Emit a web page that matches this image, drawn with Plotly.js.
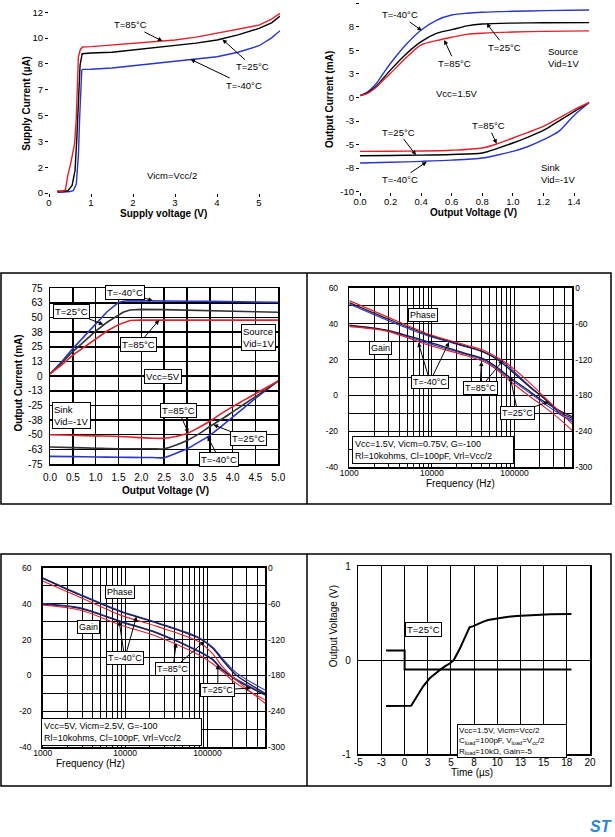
<!DOCTYPE html>
<html><head><meta charset="utf-8">
<script src="https://cdn.plot.ly/plotly-3.0.1.min.js"></script>
<style>html,body{margin:0;padding:0;background:#fff}#chart{width:615px;height:837px}</style>
</head><body><div id="chart"></div>
<script>
// ===== Panel 1: supply current vs supply voltage =====
const supplyV85 = [0.2,0.3,0.39,0.45,0.52,0.61,0.65,0.7,0.75,0.8,1.0,1.5,2.0,2.5,3.0,3.5,4.0,4.5,5.0,5.3,5.5];
const supplyI85 = [0.15,0.1,0.2,1.2,2.0,3.3,5.0,9.05,9.55,9.7,9.72,9.83,9.98,10.05,10.16,10.35,10.6,10.85,11.15,11.55,11.93];
const supplyV25 = [0.2,0.3,0.45,0.55,0.62,0.66,0.7,0.74,0.79,1.0,1.5,2.0,2.5,3.0,3.5,4.0,4.5,5.0,5.3,5.5];
const supplyI25 = [0.1,0.1,0.15,0.5,1.5,3.5,6.5,8.5,9.25,9.3,9.35,9.5,9.65,9.8,9.95,10.16,10.5,10.93,11.3,11.75];
const supplyVm40 = [0.2,0.3,0.5,0.58,0.65,0.7,0.73,0.76,0.78,0.8,1.0,1.5,2.0,2.5,3.0,3.5,4.0,4.5,5.0,5.3,5.5];
const supplyIm40 = [0.05,0.05,0.1,0.15,0.6,2.5,5.0,7.5,8.15,8.21,8.22,8.3,8.43,8.6,8.75,8.88,9.05,9.35,9.78,10.3,10.78];
const p1XTicks = [0,1,2,3,4,5];
const p1YTickVals = [0,1.714,3.429,5.143,6.857,8.571,10.286,12];
const p1YTickText = ["0","2","3","5","7","8","10","12"];

// ===== Panel 2: output current vs output voltage, Vcc=1.5V =====
const srcV15 = [0,0.05,0.1,0.15,0.2,0.3,0.4,0.5,0.6,0.7,0.8,1.0,1.2,1.5];
const srcIm40 = [0.2,0.6,1.35,2.5,3.64,5.6,7.17,8.2,8.76,8.95,9.05,9.15,9.22,9.29];
const srcI25 = [0.2,0.5,1.1,2.0,2.93,4.6,5.93,6.8,7.2,7.6,7.8,7.9,7.93,7.95];
const srcI85 = [0.2,0.45,1.0,1.8,2.58,4.2,5.58,6.04,6.4,6.7,6.82,6.95,7.02,7.07];
const sinkV15 = [0,0.2,0.4,0.6,0.8,0.9,1.0,1.1,1.2,1.3,1.4,1.5];
const sinkI85 = [-5.72,-5.7,-5.68,-5.6,-5.36,-4.9,-4.3,-3.7,-3.07,-2.2,-1.3,-0.53];
const sinkI25 = [-6.18,-6.15,-6.12,-6.05,-5.89,-5.4,-4.83,-4.2,-3.5,-2.5,-1.5,-0.53];
const sinkIm40 = [-6.95,-6.88,-6.78,-6.65,-6.42,-6.1,-5.72,-5.2,-4.48,-3.6,-1.9,-0.53];
const p2XTickVals = [0,0.2,0.4,0.6,0.8,1.0,1.2,1.4];
const p2XTickText = ["0.0","0.2","0.4","0.6","0.8","1.0","1.2","1.4"];
const p2YTickVals = [-10,-7.5,-5,-2.5,0,2.5,5,7.5,10];
const p2YTickText = ["-10","-8","-5","-3","0","3","5","8","10"];

// ===== Panel 3: output current vs output voltage, Vcc=5V =====
const srcV5 = [0,0.25,0.5,0.75,1.0,1.25,1.5,1.6,1.75,2.0,2.5,3.0,3.5,4.0,4.5,5.0];
const src5m40 = [2,12,23.5,34,44.5,55,63,64,64.5,64.5,64.3,64,63.8,63.5,63.3,63];
const src525 = [2,11,21,30,38.5,46,52.5,54.5,56.5,57,56.8,56.5,56,55.5,55,54.5];
const src585 = [2,9.5,18,25,32,38.5,44,45.5,47.5,48,48,48,48,47.8,47.8,47.8];
const sinkV5 = [0,0.5,1.0,1.5,2.0,2.25,2.5,2.75,3.0,3.25,3.5,3.75,4.0,4.25,4.5,4.75,5.0];
const sink585 = [-50,-50.5,-51,-51.5,-52.5,-53,-53,-51.5,-49,-44,-38.5,-32,-26,-20.5,-15,-9.5,-4];
const sink525 = [-60.5,-61,-61.5,-62,-62,-62,-62,-59,-55,-49.5,-43,-37,-30.5,-24,-17.5,-11,-4];
const sink5m40 = [-68.5,-68.7,-69,-69.2,-69.5,-69.5,-69.6,-66,-62,-56.5,-50.5,-43,-35,-27,-19,-11.5,-4];
const p3YTickVals = [-75,-62.5,-50,-37.5,-25,-12.5,0,12.5,25,37.5,50,62.5,75];
const p3YTickText = ["-75","-63","-50","-38","-25","-13","0","13","25","38","50","63","75"];

// ===== Panel 4: gain & phase vs frequency, Vcc=1.5V =====
const freq4 = [1000,2830,9040,25600,41500,64300,80300,155000,227000,369000,500000];
const gain4m40 = [38.8,36.2,29.0,22.9,19.8,14.2,10.5,1.2,-4.4,-11,-14.6];
const gain425 = [39.2,36.4,29.9,23.4,20.5,15,11.4,2.1,-3.4,-9,-11.8];
const gain485 = [38.3,35.8,28.1,22.2,19,13.5,9.5,-0.7,-6.2,-14,-19.6];
const phase4m40 = [-27.3,-54,-80.7,-98.4,-107.4,-120,-129,-165.3,-184.5,-212.7,-221.1];
const phase425 = [-24.9,-51.3,-78.9,-97.5,-106.8,-121.5,-132,-166.5,-184.8,-209.7,-218.1];
const phase485 = [-21.6,-48.3,-77.4,-95.7,-104.1,-117.9,-126.3,-159.8,-182,-210,-228];

// ===== Panel 5: gain & phase vs frequency, Vcc=5V =====
const freq5 = [1000,2830,8790,24900,78900,116000,152000,223000,500000];
const gain5m40 = [40,37.8,30.3,23.8,13.6,9.0,3.5,-2,-10.3];
const gain525 = [39.6,37.4,29.9,23.4,13.2,8.6,3.0,-2.5,-10.9];
const gain585 = [39.2,36.4,28.1,21.6,11.4,6.5,2.1,-4.4,-13.6];
const phase5m40 = [-16.8,-44.4,-72.3,-91.8,-116.4,-132.6,-151.5,-175.2,-204.3];
const phase525 = [-17.7,-45.6,-73.5,-93,-117.9,-134.7,-154.2,-179.2,-209.7];
const phase585 = [-22.2,-49.5,-79.2,-98.4,-123.6,-144,-165.3,-187.5,-226.5];

const freqGrid = [1000,2000,3000,4000,5000,6000,7000,8000,9000,10000,20000,30000,40000,50000,60000,70000,80000,90000,100000,200000,300000,400000,500000];
const freqLabels = {1000:"1000",10000:"10000",100000:"100000"};
const gainTickVals = [-40,-30,-20,-10,0,10,20,30,40,50,60];
const gainTickText = ["-40","","-20","","0","","20","","40","","60"];
const phaseTickVals = [-300,-240,-180,-120,-60,0];
const phaseTickText = ["-300","-240","-180","-120","-60","0"];

// ===== Panel 6: step response =====
const stepInT = [-2,0,0,18];
const stepInV = [0.1,0.1,-0.1,-0.1];
const stepOutT = [-2,0,0.7,1.3,2.0,2.7,3.2,3.8,4.3,4.9,5.3,5.6,6.0,6.3,6.7,7.0,7.4,8.0,8.5,9.0,9.9,11,12.1,13.9,15.7,18];
const stepOutV = [-0.49,-0.49,-0.486,-0.39,-0.28,-0.195,-0.15,-0.106,-0.07,-0.035,0.0,0.053,0.13,0.195,0.28,0.348,0.36,0.39,0.408,0.425,0.443,0.458,0.468,0.479,0.486,0.489];
const timeTickVals = [-5,-2.5,0,2.5,5,7.5,10,12.5,15,17.5,20];
const timeTickText = ["-5","-3","0","3","5","8","10","13","15","18","20"];

// ================= rendering =================
const W = 615, H = 837;
const FONT = "Liberation Sans, Arial, sans-serif";
const RED = "#e3202a", BLUE = "#2a36c8", BLK = "#000000";
const px = v => v / W, py = v => 1 - v / H;

function ln(x, y, xa, ya, color, width, shape) {
  return {x, y, xaxis: xa, yaxis: ya, type: "scatter", mode: "lines",
          line: {color, width, shape: shape || "linear", smoothing: 0.8}, hoverinfo: "skip"};
}
const traces = [
  ln(supplyVm40, supplyIm40, "x", "y", BLUE, 1.4),
  ln(supplyV25, supplyI25, "x", "y", BLK, 1.4),
  ln(supplyV85, supplyI85, "x", "y", RED, 1.4),

  ln(srcV15, srcIm40, "x2", "y2", BLUE, 1.4, "spline"),
  ln(srcV15, srcI25, "x2", "y2", BLK, 1.4, "spline"),
  ln(srcV15, srcI85, "x2", "y2", RED, 1.4, "spline"),
  ln(sinkV15, sinkIm40, "x2", "y2", BLUE, 1.4, "spline"),
  ln(sinkV15, sinkI25, "x2", "y2", BLK, 1.4, "spline"),
  ln(sinkV15, sinkI85, "x2", "y2", RED, 1.4, "spline"),

  ln(srcV5, src5m40, "x3", "y3", BLUE, 1.6),
  ln(srcV5, src525, "x3", "y3", "#333", 1.6),
  ln(srcV5, src585, "x3", "y3", RED, 1.6),
  ln(sinkV5, sink5m40, "x3", "y3", BLUE, 1.6, "spline"),
  ln(sinkV5, sink525, "x3", "y3", "#333", 1.6, "spline"),
  ln(sinkV5, sink585, "x3", "y3", RED, 1.6, "spline"),

  ln(freq4, gain4m40, "x4", "y4", BLUE, 1.1, "spline"),
  ln(freq4, gain425, "x4", "y4", "#1a1a3a", 1.3, "spline"),
  ln(freq4, gain485, "x4", "y4", RED, 1.1, "spline"),
  ln(freq4, phase4m40, "x4", "y7", BLUE, 1.1, "spline"),
  ln(freq4, phase425, "x4", "y7", "#1a1a3a", 1.3, "spline"),
  ln(freq4, phase485, "x4", "y7", RED, 1.1, "spline"),

  ln(freq5, gain5m40, "x5", "y5", BLUE, 1.1, "spline"),
  ln(freq5, gain525, "x5", "y5", "#1a1a3a", 1.3, "spline"),
  ln(freq5, gain585, "x5", "y5", RED, 1.1, "spline"),
  ln(freq5, phase5m40, "x5", "y8", BLUE, 1.1, "spline"),
  ln(freq5, phase525, "x5", "y8", "#1a1a3a", 1.3, "spline"),
  ln(freq5, phase585, "x5", "y8", RED, 1.1, "spline"),

  ln(stepInT, stepInV, "x6", "y6", BLK, 2),
  ln(stepOutT, stepOutV, "x6", "y6", BLK, 2)
];

const tf = s => ({family: FONT, size: s, color: "#000"});
const plainX = (dom, anchor, extra) => Object.assign({domain: dom, anchor, showgrid: false, zeroline: false,
  showline: false, ticks: "outside", ticklen: 3, tickcolor: "#000", tickfont: tf(9.5), fixedrange: true}, extra);
const boxAx = (dom, anchor, gw, extra) => Object.assign({domain: dom, anchor, showgrid: true, gridcolor: "#000",
  gridwidth: gw, zeroline: false, showline: true, mirror: true, linecolor: "#000", linewidth: 1.5,
  ticks: "", tickfont: tf(10), fixedrange: true}, extra);

const freqText = freqGrid.map(f => freqLabels[f] || "");
const LOGMAX = Math.log10(500000);

const layout = {
  width: W, height: H, margin: {l: 0, r: 0, t: 0, b: 0},
  paper_bgcolor: "#fff", plot_bgcolor: "rgba(0,0,0,0)", showlegend: false,
  font: {family: FONT, size: 10, color: "#000"},
  xaxis: plainX([px(49), px(280)], "y", {range: [0, 5.5], tickvals: p1XTicks, ticklabelstandoff: -2}),
  yaxis: plainX([py(193), py(12.3)], "x", {range: [0, 12], tickvals: p1YTickVals, ticktext: p1YTickText}),
  xaxis2: plainX([px(360), px(589.3)], "y2", {range: [0, 1.5], tickvals: p2XTickVals, ticktext: p2XTickText, ticklabelstandoff: -2}),
  yaxis2: plainX([py(191.7), py(3.3)], "x2", {range: [-10, 10], tickvals: p2YTickVals, ticktext: p2YTickText}),
  xaxis3: boxAx([px(50), px(278.3)], "y3", 1.5, {range: [0, 5], dtick: 0.5, tick0: 0, tickformat: ".1f", ticklabelstandoff: 3}),
  yaxis3: boxAx([py(464), py(288.3)], "x3", 1.5, {range: [-75, 75], tickvals: p3YTickVals, ticktext: p3YTickText, ticklabelstandoff: 4}),
  xaxis4: boxAx([px(349.3), px(572.3)], "y4", 1, {type: "log", range: [3, LOGMAX], tickvals: freqGrid, ticktext: freqText, tickfont: tf(8.5), ticklabelstandoff: -3}),
  yaxis4: boxAx([py(467.3), py(287.7)], "x4", 1, {range: [-40, 60], tickvals: gainTickVals, ticktext: gainTickText, tickfont: tf(8.5), ticklabelstandoff: 8}),
  yaxis7: {overlaying: "y4", anchor: "x4", side: "right", range: [-300, 0], tickvals: phaseTickVals, ticktext: phaseTickText,
           showgrid: false, zeroline: false, showline: false, ticks: "", tickfont: tf(8.5), fixedrange: true, ticklabelstandoff: 2},
  xaxis5: boxAx([px(42.7), px(265)], "y5", 1, {type: "log", range: [3, LOGMAX], tickvals: freqGrid, ticktext: freqText, tickfont: tf(8.5), ticklabelstandoff: -3}),
  yaxis5: boxAx([py(747.3), py(567.7)], "x5", 1, {range: [-40, 60], tickvals: gainTickVals, ticktext: gainTickText, tickfont: tf(8.5), ticklabelstandoff: 8}),
  yaxis8: {overlaying: "y5", anchor: "x5", side: "right", range: [-300, 0], tickvals: phaseTickVals, ticktext: phaseTickText,
           showgrid: false, zeroline: false, showline: false, ticks: "", tickfont: tf(8.5), fixedrange: true, ticklabelstandoff: 2},
  xaxis6: boxAx([px(358.3), px(590)], "y6", 1, {range: [-5, 20], tickvals: timeTickVals, ticktext: timeTickText, ticklabelstandoff: -2}),
  yaxis6: boxAx([py(754), py(566)], "x6", 1, {range: [-1, 1], tickvals: [-1, 0, 1], ticktext: ["-1", "0", "1"], ticklabelstandoff: 4}),
  shapes: [
    {type: "rect", xref: "paper", yref: "paper", x0: px(1), x1: px(611), y0: py(504), y1: py(273), line: {color: "#000", width: 1.5}},
    {type: "line", xref: "paper", yref: "paper", x0: px(307), x1: px(307), y0: py(504), y1: py(273), line: {color: "#000", width: 1.5}},
    {type: "rect", xref: "paper", yref: "paper", x0: px(1), x1: px(611), y0: py(786), y1: py(554), line: {color: "#000", width: 1.5}},
    {type: "line", xref: "paper", yref: "paper", x0: px(307), x1: px(307), y0: py(786), y1: py(554), line: {color: "#000", width: 1.5}}
  ],
  annotations: []
};

const A = layout.annotations;
// axis titles (paper)
function ptxt(text, x, y, size, angle) {
  A.push({xref: "paper", yref: "paper", x: px(x), y: py(y), xanchor: "center", yanchor: "middle",
          text, showarrow: false, textangle: angle || 0, font: tf(size)});
}
ptxt("<b>Supply Current (µA)</b>", 26.7, 103, 10, -90);
ptxt("<b>Supply voltage (V)</b>", 163.3, 213, 10);
ptxt("<b>Output Current (mA)</b>", 330, 100, 10, -90);
ptxt("<b>Output Voltage (V)</b>", 473.3, 212.5, 10);
ptxt("<b>Output Current (mA)</b>", 18.3, 383.3, 10, -90);
ptxt("<b>Output Voltage (V)</b>", 165, 490, 10);
ptxt("Frequency (Hz)", 460, 483, 10);
ptxt("Frequency (Hz)", 90, 763, 10);
ptxt("Output Voltage (V)", 333.3, 626, 10, -90);
ptxt("Time (µs)", 471.7, 772, 10);

// data-coordinate labels & arrows
function boxOpts(o) { return o ? {bgcolor: "#fff", bordercolor: "#000", borderwidth: 1, borderpad: 1} : {}; }
function label(xr, yr, x, y, text, size, boxed, align) {
  A.push(Object.assign({xref: xr, yref: yr, x, y, text, showarrow: false, font: tf(size), align: align || "center"}, boxOpts(boxed)));
}
function arrow(xr, yr, hx, hy, tx, ty, text, size, boxed) {
  A.push(Object.assign({xref: xr, yref: yr, x: hx, y: hy, axref: xr, ayref: yr, ax: tx, ay: ty, text,
    showarrow: true, arrowhead: 2, arrowsize: 0.9, arrowwidth: 1, arrowcolor: "#000", font: tf(size)}, boxOpts(boxed)));
}

// Panel 1
arrow("x", "y", 2.70, 10.09, 1.94, 11.16, "T=85°C", 9.5);
arrow("x", "y", 4.13, 10.2, 4.85, 8.39, "T=25°C", 9.5);
arrow("x", "y", 3.37, 8.88, 4.65, 7.17, "T=-40°C", 9.5);
label("x", "y", 2.94, 1.13, "Vicm=Vcc/2", 9.5);

// Panel 2
arrow("x2", "y2", 0.404, 7.1, 0.262, 8.76, "T=-40°C", 9.5);
arrow("x2", "y2", 0.828, 7.88, 0.948, 5.34, "T=25°C", 9.5);
arrow("x2", "y2", 0.551, 6.11, 0.621, 3.64, "T=85°C", 9.5);
label("x2", "y2", 1.33, 4.28, "Source<br>Vid=1V", 9.5, false, "left");
label("x2", "y2", 0.632, 0.47, "Vcc=1.5V", 9.5);
arrow("x2", "y2", 0.366, -6.1, 0.25, -3.67, "T=25°C", 9.5);
arrow("x2", "y2", 0.894, -4.9, 0.839, -3.0, "T=85°C", 9.5);
arrow("x2", "y2", 0.436, -6.84, 0.262, -8.72, "T=-40°C", 9.5);
label("x2", "y2", 1.297, -8.08, "Sink<br>Vid=-1V", 9.5, false, "left");

// Panel 3
arrow("x3", "y3", 2.25, 64.5, 1.642, 71.5, "T=-40°C", 9.5, true);
arrow("x3", "y3", 1.167, 44, 0.475, 54.9, "T=25°C", 9.5, true);
arrow("x3", "y3", 2.39, 47.9, 1.933, 27.1, "T=85°C", 9.5, true);
label("x3", "y3", 4.561, 33.0, "Source<br>Vid=1V", 9.5, true, "left");
label("x3", "y3", 2.481, -0.6, "Vcc=5V", 9.5, true);
label("x3", "y3", 0.475, -33.9, "Sink<br>Vid=-1V", 9.5, true, "left");
arrow("x3", "y3", 3.03, -48.5, 2.809, -29.0, "T=85°C", 9.5, true);
arrow("x3", "y3", 3.58, -41.5, 4.342, -53.2, "T=25°C", 9.5, true);
arrow("x3", "y3", 3.45, -51.5, 3.707, -70.9, "T=-40°C", 9.5, true);

// Panel 4
label("x4", "y4", 3.889, 44.8, "Phase", 9, true);
label("x4", "y4", 3.372, 26.3, "Gain", 9, true);
arrow("x4", "y4", 4.207, 29.6, 3.977, 7.7, "", 9);
arrow("x4", "y4", 3.835, 29.4, 3.977, 7.7, "T=-40°C", 9, true);
arrow("x4", "y4", 4.86, 19.5, 4.582, 4.0, "", 9);
arrow("x4", "y4", 4.6, 18.8, 4.582, 4.0, "T=85°C", 9, true);
arrow("x4", "y4", 5.41, -3.5, 5.039, -9.6, "", 9);
arrow("x4", "y4", 4.946, 10.5, 5.039, -9.6, "T=25°C", 9, true);
A.push({xref: "x4", yref: "y4", x: 4.007, y: -30.4, showarrow: false, align: "left", width: 156, font: tf(9),
        bgcolor: "#fff", bordercolor: "#000", borderwidth: 1, borderpad: 2,
        text: "Vcc=1.5V, Vicm=0.75V, G=-100<br>Rl=10kohms, Cl=100pF, Vrl=Vcc/2"});

// Panel 5
label("x5", "y5", 3.944, 46.3, "Phase", 9, true);
label("x5", "y5", 3.552, 26.8, "Gain", 9, true);
arrow("x5", "y5", 4.138, 32.8, 3.996, 9.55, "", 9);
arrow("x5", "y5", 3.928, 30.3, 3.996, 9.55, "T=-40°C", 9, true);
arrow("x5", "y5", 4.965, 19, 4.581, 3.6, "", 9);
arrow("x5", "y5", 4.62, 18, 4.581, 3.6, "T=85°C", 9, true);
arrow("x5", "y5", 5.53, -7, 5.126, -8.1, "", 9);
arrow("x5", "y5", 5.127, 6, 5.126, -8.1, "T=25°C", 9, true);
A.push({xref: "x5", yref: "y5", x: 3.962, y: -31.5, showarrow: false, align: "left", width: 155, font: tf(9),
        bgcolor: "#fff", bordercolor: "#000", borderwidth: 1, borderpad: 2,
        text: "Vcc=5V, Vicm=2.5V, G=-100<br>Rl=10kohms, Cl=100pF, Vrl=Vcc/2"});

// Panel 6
label("x6", "y6", 2.01, 0.327, "T=25°C", 9.5, true);
A.push({xref: "x6", yref: "y6", x: 11.63, y: -0.86, showarrow: false, align: "left", width: 106, font: tf(8),
        bgcolor: "#fff", bordercolor: "#000", borderwidth: 1, borderpad: 1,
        text: "Vcc=1.5V, Vicm=Vcc/2<br>C<sub>load</sub>=100pF, V<sub>load</sub>=V<sub>cc</sub>/2<br>R<sub>load</sub>=10kΩ, Gain=-5"});

// logo
A.push({xref: "paper", yref: "paper", x: px(601), y: py(826), xanchor: "center", yanchor: "middle", showarrow: false,
        text: "<b><i>ST</i></b>", font: {family: FONT, size: 16, color: "#2f86d6"}});

Plotly.newPlot("chart", traces, layout, {staticPlot: true, displayModeBar: false});
</script>
</body></html>
